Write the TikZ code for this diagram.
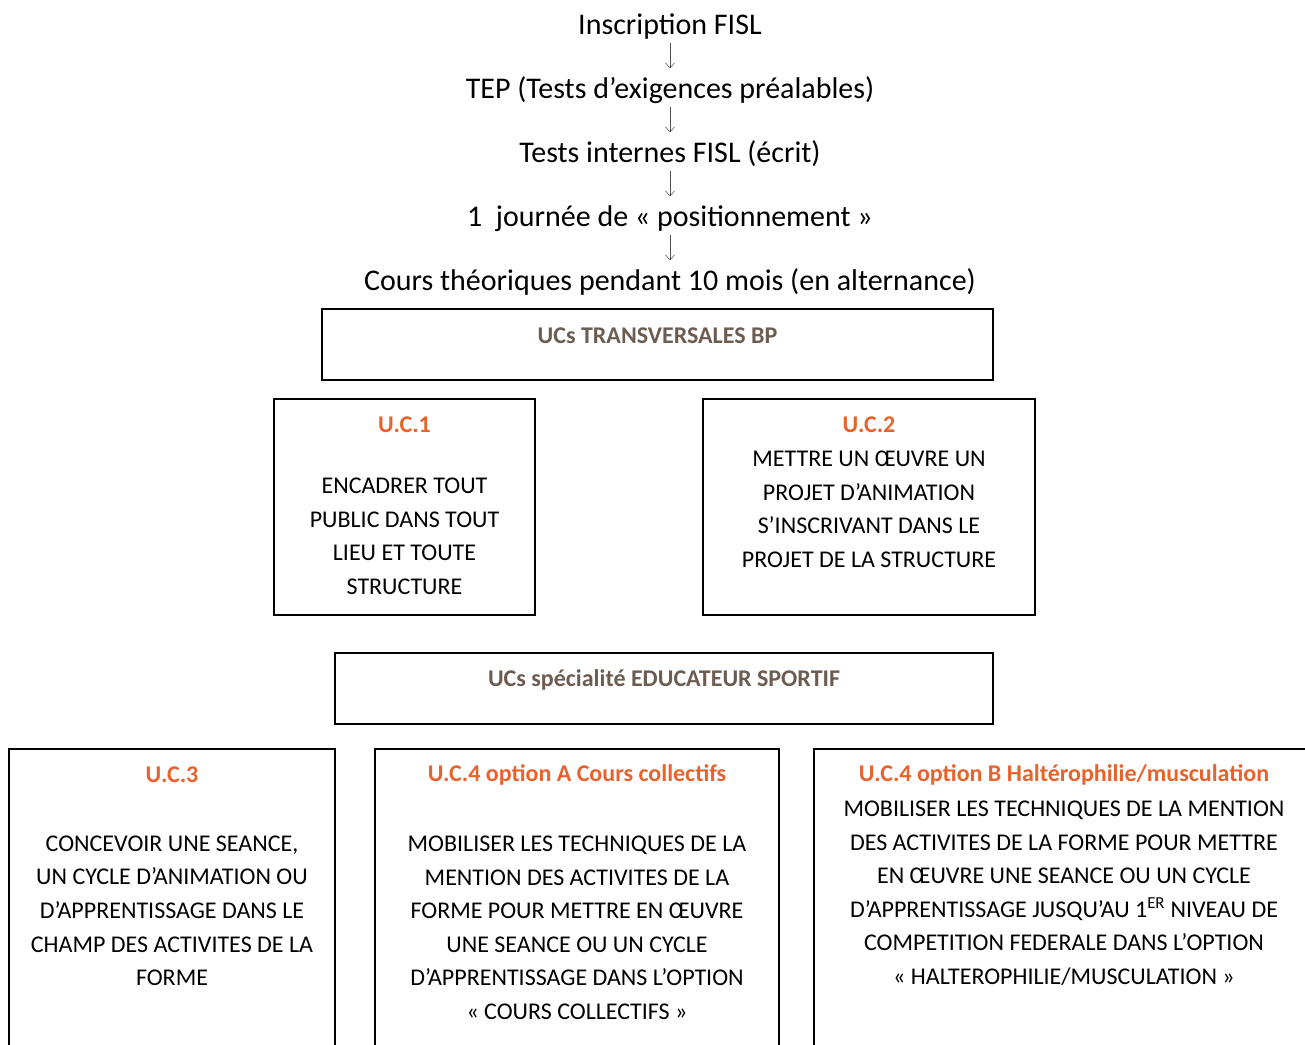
\documentclass[tikz,border=0pt]{standalone}
\usepackage{fontspec}
\setmainfont{Carlito}
\usepackage{tikz}
\usetikzlibrary{positioning, arrows.meta}
\definecolor{ucorange}{RGB}{233,98,44}
\definecolor{ucbrown}{RGB}{108,92,81}
\tikzset{
x=1pt, y=-1pt, % one unit is one pixel of the page, y grows downwards
node distance=64pt, % vertical step between the stages on top
steptext/.style={font=\fontsize{30}{34}\selectfont, inner sep=0pt, text height=22pt, text depth=7pt}, % stage lines
steparrow/.style={-{Straight Barb[length=5pt, width=9pt]}, line width=0.5pt, draw=black!70, shorten <=1pt, shorten >=8pt},
ucbox/.style={draw, line width=1.6pt, inner sep=0pt}, % the frames
ucgroup/.style={font=\bfseries\fontsize{24}{28}\selectfont, text=ucbrown, inner sep=0pt},
uctitle/.style={font=\bfseries\fontsize{24}{28}\selectfont, text=ucorange, inner sep=0pt},
ucbody/.style={align=center, font=\fontsize{24}{33.6}\selectfont, inner sep=0pt},
}
\begin{document}
\begin{tikzpicture}
    \useasboundingbox (0,0) rectangle (1305,1044);
    \clip (0,0) rectangle (1305,1044);

    % stages
    \node[steptext] (s1) at (670,27) {Inscription FISL};
    \node[steptext, below of=s1] (s2) {TEP (Tests d’exigences préalables)};
    \node[steptext, below of=s2] (s3) {Tests internes FISL (écrit)};
    \node[steptext, below of=s3] (s4) {1\ \ journée de « positionnement »};
    \node[steptext, below of=s4] (s5) {Cours théoriques pendant 10 mois (en alternance)};

    \draw[steparrow] (s1) -- (s2);
    \draw[steparrow] (s2) -- (s3);
    \draw[steparrow] (s3) -- (s4);
    \draw[steparrow] (s4) -- (s5);

    % transversal units
    \node[ucbox, minimum width=671pt, minimum height=71pt] (transv) at (657.5,344.5) {};
    \node[ucgroup] (transvt) at ([yshift=-28pt]transv.north) {UCs TRANSVERSALES BP};

    \node[ucbox, minimum width=261pt, minimum height=216pt] (uc1) at (404.5,507) {};
    \node[uctitle] (uc1t) at ([yshift=-27pt]uc1.north) {U.C.1};
    \node[ucbody] (uc1b) at ([yshift=-138pt]uc1.north) {ENCADRER TOUT\\PUBLIC DANS TOUT\\LIEU ET TOUTE\\STRUCTURE};

    \node[ucbox, minimum width=332pt, minimum height=216pt] (uc2) at (869,507) {};
    \node[uctitle] (uc2t) at ([yshift=-27pt]uc2.north) {U.C.2};
    \node[ucbody] (uc2b) at ([yshift=-111pt]uc2.north) {METTRE UN ŒUVRE UN\\PROJET D’ANIMATION\\S’INSCRIVANT DANS LE\\PROJET DE LA STRUCTURE};

    % speciality units
    \node[ucbox, minimum width=658pt, minimum height=71pt] (spec) at (664,688.5) {};
    \node[ucgroup] (spect) at ([yshift=-28pt]spec.north) {UCs spécialité EDUCATEUR SPORTIF};

    \node[ucbox, minimum width=326pt, minimum height=331pt] (uc3) at (172,914.5) {};
    \node[uctitle] (uc3t) at ([yshift=-27pt]uc3.north) {U.C.3};
    \node[ucbody] (uc3b) at ([yshift=-162.5pt]uc3.north) {CONCEVOIR UNE SEANCE,\\UN CYCLE D’ANIMATION OU\\D’APPRENTISSAGE DANS LE\\CHAMP DES ACTIVITES DE LA\\FORME};

    \node[ucbox, minimum width=404pt, minimum height=331pt] (uc4a) at (577,914.5) {};
    \node[uctitle] (uc4at) at ([yshift=-27pt]uc4a.north) {U.C.4 option A Cours collectifs};
    \node[ucbody] (uc4ab) at ([yshift=-179.5pt]uc4a.north) {MOBILISER LES TECHNIQUES DE LA\\MENTION DES ACTIVITES DE LA\\FORME POUR METTRE EN ŒUVRE\\UNE SEANCE OU UN CYCLE\\D’APPRENTISSAGE DANS L’OPTION\\« COURS COLLECTIFS »};

    \node[ucbox, minimum width=500pt, minimum height=331pt] (uc4b) at (1064,914.5) {};
    \node[uctitle] (uc4bt) at ([yshift=-27pt]uc4b.north) {U.C.4 option B Haltérophilie/musculation};
    \node[ucbody] (uc4bb) at ([yshift=-145pt]uc4b.north) {MOBILISER LES TECHNIQUES DE LA MENTION\\DES ACTIVITES DE LA FORME POUR METTRE\\EN ŒUVRE UNE SEANCE OU UN CYCLE\\D’APPRENTISSAGE JUSQU’AU 1\textsuperscript{ER} NIVEAU DE\\COMPETITION FEDERALE DANS L’OPTION\\« HALTEROPHILIE/MUSCULATION »};
\end{tikzpicture}
\end{document}
